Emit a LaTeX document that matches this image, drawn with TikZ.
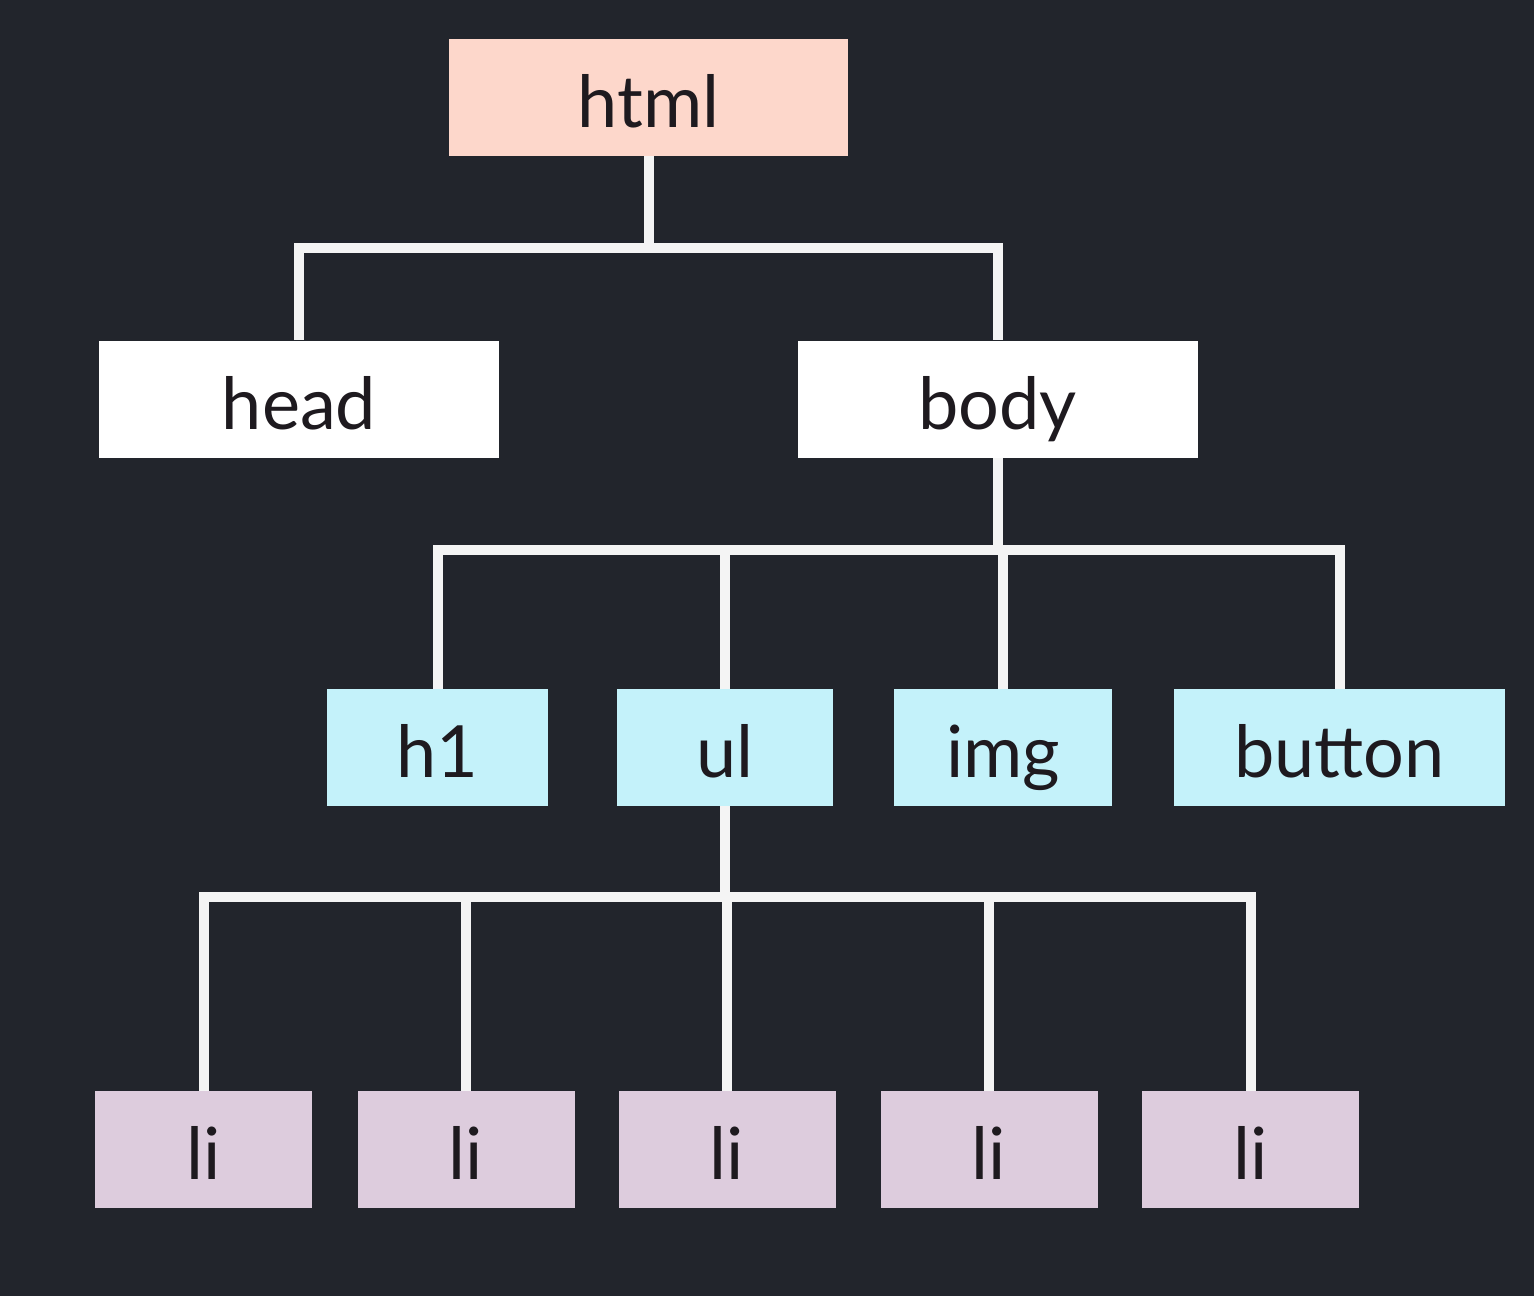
\documentclass[tikz,border=0pt]{standalone}
\usepackage{fontspec}
\setmainfont{Lato}
\definecolor{bg}{HTML}{22252C}
\definecolor{peach}{HTML}{FDD7CB}
\definecolor{cyanbox}{HTML}{C4F2FA}
\definecolor{lilac}{HTML}{DDCCDD}
\definecolor{ink}{HTML}{1E1A1F}
\definecolor{wire}{HTML}{F4F4F4}
\begin{document}
\begin{tikzpicture}[x=0.5pt,y=-0.5pt,
  box/.style={rectangle, inner sep=0pt, text=ink, font=\fontsize{36}{40}\selectfont, minimum height=58.5pt, text height=30pt, text depth=0pt},
  rootbox/.style={box, fill=peach, minimum width=199.5pt},
  topbox/.style={box, fill=white, minimum width=200pt},
  midbox/.style={box, fill=cyanbox},
  leafbox/.style={box, fill=lilac, minimum width=108.5pt},
  conn/.style={draw=wire, line width=5pt}]
\fill[bg] (0,0) rectangle (1534,1296);
\useasboundingbox (0,0) rectangle (1534,1296);
% nodes
\node[rootbox] (html) at (648.5,97.5) {html};
\node[topbox] (head) at (299,399) {head};
\node[topbox] (body) at (997.5,399) {body};
\node[midbox, minimum width=110.5pt] (h1) at (437.5,747.5) {h1};
\node[midbox, minimum width=108pt] (ul) at (725,747.5) {ul};
\node[midbox, minimum width=109pt] (img) at (1003,747.5) {img};
\node[midbox, minimum width=165.5pt] (button) at (1339.5,747.5) {button};
\node[leafbox] (li1) at (203.5,1149.5) {li};
\node[leafbox] (li2) at (466,1149.5) {li};
\node[leafbox] (li3) at (727,1149.5) {li};
\node[leafbox] (li4) at (989,1149.5) {li};
\node[leafbox] (li5) at (1250.5,1149.5) {li};
% bus levels
\coordinate (b1) at (0,248);
\coordinate (b2) at (0,550);
\coordinate (b3) at (0,897);
% connectors
\draw[conn] (html.south) -- (html.south |- b1);
\draw[conn] (head.north) -- (head.north |- b1) -- (body.north |- b1) -- (body.north);
\draw[conn] (body.south) -- (body.south |- b2);
\draw[conn] (h1.north) -- (h1.north |- b2) -- (button.north |- b2) -- (button.north);
\draw[conn] (ul.north) -- (ul.north |- b2);
\draw[conn] (img.north) -- (img.north |- b2);
\draw[conn] (ul.south) -- (ul.south |- b3);
\draw[conn] (li1.north) -- (li1.north |- b3) -- (li5.north |- b3) -- (li5.north);
\draw[conn] (li2.north) -- (li2.north |- b3);
\draw[conn] (li3.north) -- (li3.north |- b3);
\draw[conn] (li4.north) -- (li4.north |- b3);
\end{tikzpicture}
\end{document}
